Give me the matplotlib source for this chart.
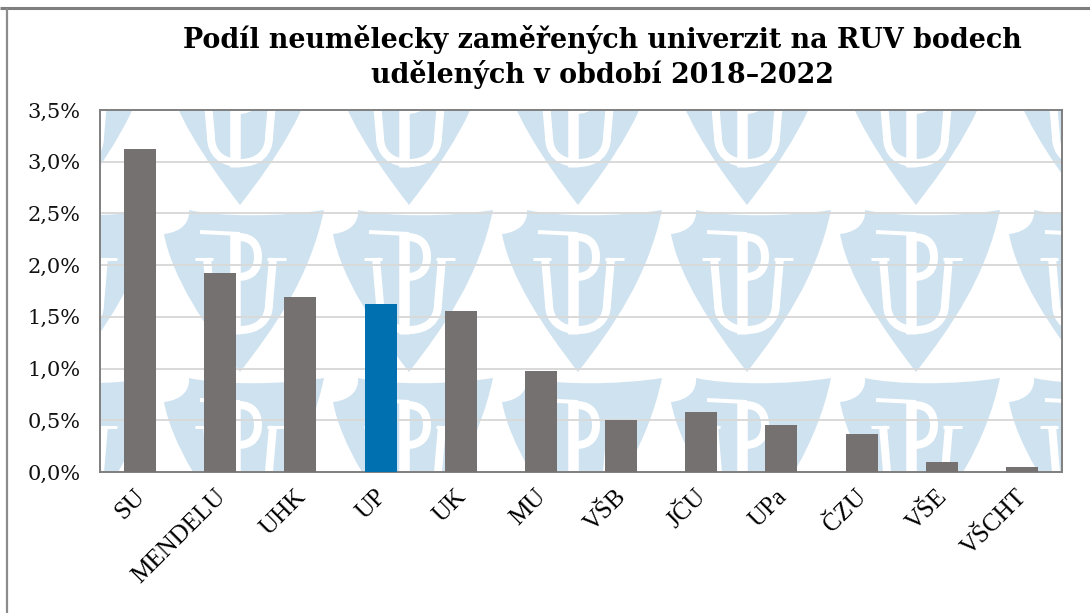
import matplotlib
matplotlib.use("Agg")
import matplotlib.pyplot as plt
from matplotlib.patches import PathPatch, Rectangle
from matplotlib.path import Path
from matplotlib.transforms import ScaledTranslation

universities = ["SU", "MENDELU", "UHK", "UP", "UK", "MU", "VŠB", "JČU", "UPa", "ČZU", "VŠE", "VŠCHT"]
shares = [3.12, 1.92, 1.69, 1.62, 1.56, 0.98, 0.50, 0.58, 0.455, 0.37, 0.095, 0.045]
y_ticks = [0.0, 0.5, 1.0, 1.5, 2.0, 2.5, 3.0, 3.5]
y_tick_labels = ["0,0%", "0,5%", "1,0%", "1,5%", "2,0%", "2,5%", "3,0%", "3,5%"]
highlight = "UP"
title = "Podíl neumělecky zaměřených univerzit na RUV bodech\nudělených v období 2018–2022"

# watermark tile positions (shield tips, pixels)
tip_xs = [71, 240, 409, 578, 747, 916, 1085]
tip_ys = [205, 372, 540]

SHIELD_BLUE = "#cfe2f0"
GREY = "#767171"
M, L, C = Path.MOVETO, Path.LINETO, Path.CURVE4


def draw_shield(bg, tx, ty, clip):
    # shield outline, dx/dy relative to the tip, y going up
    verts = [(84, 162), (70, 95), (35, 45), (0, 0), (-35, 45), (-68, 95), (-76, 138),
             (-58, 140), (-50, 150), (-51, 162), (-20, 155), (40, 155), (84, 162)]
    codes = [M] + [C] * 12
    shield = PathPatch(Path([(tx + x, ty - y) for x, y in verts], codes), fc=SHIELD_BLUE, ec="none", zorder=1)
    bg.add_patch(shield)
    shield.set_clip_path(clip)

    # white letters: U, P stem and P bowl
    u_verts = [(-33, 114), (-29, 68), (-29, 52), (-18, 42), (0, 42), (18, 42), (29, 52), (29, 68), (33, 114)]
    u_codes = [M, L, C, C, C, C, C, C, L]
    bowl_verts = [(-2, 135), (14, 135), (18, 125), (18, 115), (18, 103), (12, 95), (-2, 95)]
    bowl_codes = [M, C, C, C, C, C, C]
    parts = [
        (u_verts, u_codes, 8),
        (bowl_verts, bowl_codes, 8),
        ([(-5, 139), (-5, 38)], [M, L], 10.5),
        ([(-40, 140), (0, 138)], [M, L], 4),
        ([(-45, 113), (-27, 113)], [M, L], 3),
        ([(27, 113), (46, 113)], [M, L], 3),
    ]
    for pts, cds, lw in parts:
        p = PathPatch(Path([(tx + x, ty - y) for x, y in pts], cds), fc="none", ec="white",
                      lw=lw * 0.72, zorder=2, capstyle="butt")
        bg.add_patch(p)
        p.set_clip_path(clip)


fig = plt.figure(figsize=(10.9, 6.13), dpi=100, facecolor="white")

# background layer in pixel coordinates for the page frame and the watermark
bg = fig.add_axes([0, 0, 1, 1], zorder=0)
bg.set_xlim(0, 1090)
bg.set_ylim(613, 0)
bg.axis("off")
bg.plot([0, 1090], [8, 8], color="#7f7f7f", lw=2.2, solid_capstyle="butt")
bg.plot([7, 7], [8, 613], color="#8c8c8c", lw=1.6, solid_capstyle="butt")
clip = Rectangle((100, 110), 962, 362, transform=bg.transData)
for ty in tip_ys:
    for tx in tip_xs:
        draw_shield(bg, tx, ty, clip)

# chart
ax = fig.add_axes([100 / 1090, 1 - 472 / 613, 962 / 1090, 362 / 613], zorder=1)
ax.patch.set_alpha(0)
x = range(len(universities))
colors = ["#0070b0" if u == highlight else GREY for u in universities]
ax.bar(x, shares, width=0.4, color=colors, zorder=3)
ax.set_xlim(-0.5, len(universities) - 0.5)
ax.set_ylim(0, 3.5)
ax.grid(axis="y", color="#d9d9d9", lw=1.4, zorder=1)
ax.set_axisbelow(True)
for s in ax.spines.values():
    s.set_color("#7f7f7f")
    s.set_linewidth(1.4)

ax.set_yticks(y_ticks)
ax.set_yticklabels(y_tick_labels, fontfamily="DejaVu Serif", fontsize=15, color="#111111")
ax.tick_params(axis="y", length=0, pad=14)
ax.set_xticks(list(x))
ax.set_xticklabels(universities, fontfamily="Liberation Serif", fontsize=18, rotation=45,
                   ha="right", va="top", rotation_mode="anchor")
ax.tick_params(axis="x", length=0, pad=10)
# labels sit a little left of the tick position
shift = ScaledTranslation(-6 / 100, 0, fig.dpi_scale_trans)
for lab in ax.get_xticklabels():
    lab.set_transform(lab.get_transform() + shift)

fig.text(602 / 1090, 1 - 57 / 613, title, ha="center", va="center", fontfamily="DejaVu Serif",
         fontweight="bold", fontsize=19.4, linespacing=1.3)

fig.savefig("out.png", dpi=100)
